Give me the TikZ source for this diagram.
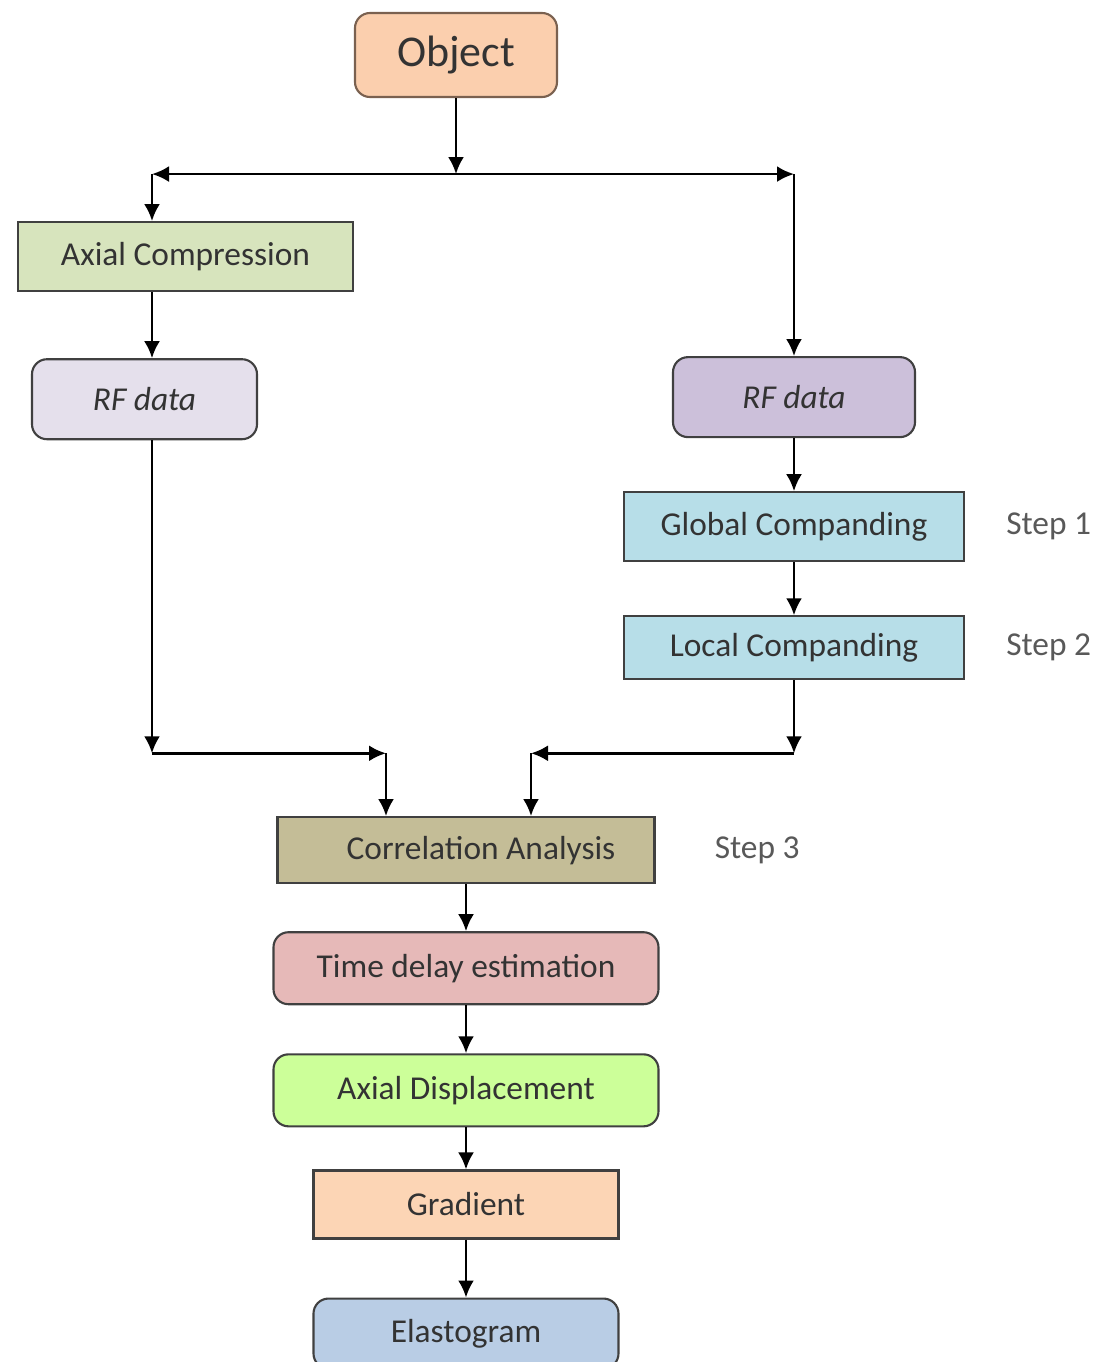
\documentclass[tikz,border=0pt]{standalone}
\usepackage{fontspec}
\setmainfont{Carlito}
\usetikzlibrary{arrows.meta, positioning, calc}
\definecolor{obj_peach}{HTML}{FBCFAE}
\definecolor{obj_edge}{HTML}{7A6150}
\definecolor{axc_green}{HTML}{D7E4BD}
\definecolor{rf_light}{HTML}{E5E0EC}
\definecolor{rf_dark}{HTML}{CCC0DA}
\definecolor{comp_blue}{HTML}{B7DEE8}
\definecolor{corr_khaki}{HTML}{C4BD97}
\definecolor{tde_pink}{HTML}{E6B9B8}
\definecolor{axd_green}{HTML}{CCFF99}
\definecolor{grad_peach}{HTML}{FCD5B5}
\definecolor{elas_blue}{HTML}{B9CDE5}
\tikzset{
  box/.style={rectangle,draw=black!75,line width=1.2pt,text=black!80,minimum height=1.38cm,font=\fontsize{19}{22}\selectfont},
  box_r/.style={box,rounded corners=0.3cm},
  steplabel/.style={text=black!65,font=\fontsize{19}{22}\selectfont},
  flow/.style={line width=1.5pt,-{Latex[length=3.4mm,width=3.2mm]}},
}

\begin{document}
\begin{tikzpicture}
	    \useasboundingbox (0,0) rectangle (22,-27.24);
	    \node[box_r,fill=obj_peach,draw=obj_edge,minimum width=4.04cm,minimum height=1.68cm,font=\fontsize{25}{30}\selectfont] (obj) at (9.12,-1.1) {Object};
	    \node[box,fill=axc_green,minimum width=6.7cm,below=2.46cm of obj,xshift=-5.41cm] (axc) {Axial Compression};
	    \node[box_r,fill=rf_light,minimum width=4.5cm,minimum height=1.6cm,below=1.32cm of axc,xshift=-0.82cm,font=\fontsize{19}{22}\selectfont\itshape] (rfl) {RF data};
	    \node[box_r,fill=rf_dark,minimum width=4.84cm,minimum height=1.6cm,below=5.16cm of obj,xshift=6.76cm,font=\fontsize{19}{22}\selectfont\itshape] (rfr) {RF data};
	    \node[box,fill=comp_blue,minimum width=6.8cm,below=1.06cm of rfr] (glob) {Global Companding};
	    \node[box,fill=comp_blue,minimum width=6.8cm,minimum height=1.26cm,below=1.06cm of glob] (loc) {Local Companding};
	    \node[steplabel,right=0.7cm of glob] (step1) {Step 1};
	    \node[steplabel,right=0.7cm of loc] (step2) {Step 2};
	    % lower chain
	    \node[box,fill=corr_khaki,minimum width=7.54cm,minimum height=1.32cm,below=14.36cm of obj,xshift=0.2cm] (corr) {\hspace*{0.6cm}Correlation Analysis};
	    \node[steplabel,right=1.06cm of corr] (step3) {Step 3};
	    \node[box_r,fill=tde_pink,minimum width=7.7cm,minimum height=1.44cm,below=0.94cm of corr] (tde) {Time delay estimation};
	    \node[box_r,fill=axd_green,minimum width=7.7cm,minimum height=1.44cm,below=0.96cm of tde] (axd) {Axial Displacement};
	    \node[box,fill=grad_peach,minimum width=6.1cm,minimum height=1.36cm,below=0.84cm of axd] (grad) {Gradient};
	    \node[box_r,fill=elas_blue,minimum width=6.1cm,minimum height=1.4cm,below=1.16cm of grad] (elas) {Elastogram};
	    % junctions
	    \coordinate (split) at ($(obj.south)+(0,-1.52)$);
	    \coordinate (splitL) at ($(split -| rfl)+(0.15,0)$);
	    \coordinate (splitR) at (split -| rfr);
	    \coordinate (mergeL) at ($(rfl.south)+(0.15,-6.26)$);
	    \coordinate (mergeR) at (mergeL -| loc);
	    \coordinate (inL) at ($(corr.north)+(-1.6,0)$);
	    \coordinate (inR) at ($(corr.north)+(1.3,0)$);
	    \coordinate (hubL) at (inL |- mergeL);
	    \coordinate (hubR) at (inR |- mergeL);
	    % connectors
	    \draw[flow] (obj) -- (split);
	    \draw[flow] (split) -- (splitL);
	    \draw[flow] (split) -- (splitR);
	    \draw[flow] (splitL) -- (splitL |- axc.north);
	    \draw[flow] (axc.south -| splitL) -- (rfl.north -| splitL);
	    \draw[flow] (splitR) -- (rfr);
	    \draw[flow] (rfr) -- (glob);
	    \draw[flow] (glob) -- (loc);
	    \draw[flow] (rfl.south -| mergeL) -- (mergeL);
	    \draw[flow] (mergeL) -- (hubL);
	    \draw[flow] (hubL) -- (inL);
	    \draw[flow] (loc) -- (mergeR);
	    \draw[flow] (mergeR) -- (hubR);
	    \draw[flow] (hubR) -- (inR);
	    \draw[flow] (corr) -- (tde);
	    \draw[flow] (tde) -- (axd);
	    \draw[flow] (axd) -- (grad);
	    \draw[flow] (grad) -- (elas);
	\end{tikzpicture}
\end{document}
